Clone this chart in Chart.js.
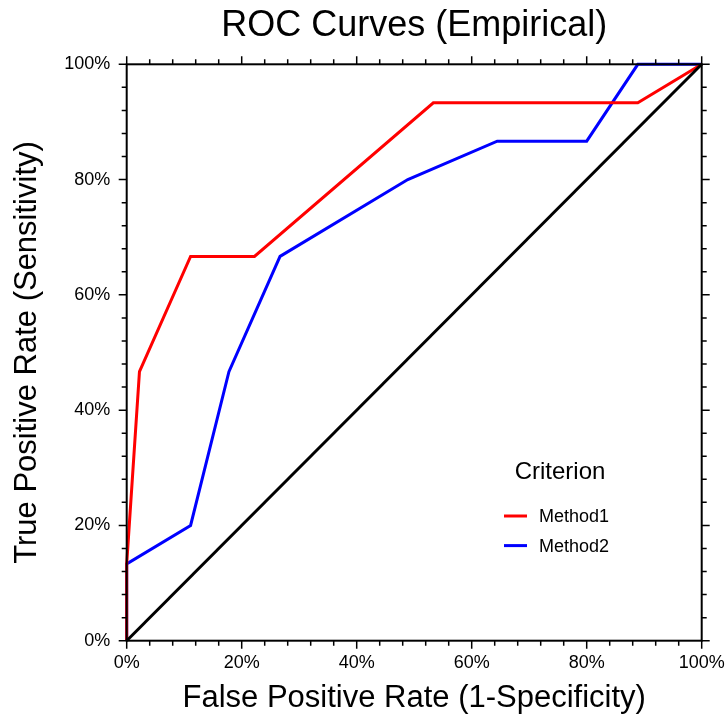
<!DOCTYPE html>
<html>
<head>
<meta charset="utf-8">
<script src="https://cdn.jsdelivr.net/npm/chart.js@4.4.1/dist/chart.umd.min.js"></script>
<style>
html,body{margin:0;padding:0;background:#fff;}
#wrap{position:relative;width:725px;height:721px;}
</style>
</head>
<body>
<div id="wrap"><canvas id="c" width="725" height="721"></canvas></div>
<script>
// Data (percent)
const seriesNames = ['Method1', 'Method2'];
const method1FPR = [0, 0, 2.22, 11.11, 22.22, 53.33, 88.89, 100];
const method1TPR = [0, 13.33, 46.67, 66.67, 66.67, 93.33, 93.33, 100];
const method2FPR = [0, 0, 11.11, 17.78, 26.67, 48.89, 64.44, 80.0, 88.89, 100];
const method2TPR = [0, 13.33, 20.0, 46.67, 66.67, 80.0, 86.67, 86.67, 100, 100];
const refFPR = [0, 100];
const refTPR = [0, 100];
const tickValues = [0, 20, 40, 60, 80, 100];
const legendTitle = 'Criterion';
const chartTitle = 'ROC Curves (Empirical)';
const xTitle = 'False Positive Rate (1-Specificity)';
const yTitle = 'True Positive Rate (Sensitivity)';

const toPts = (xs, ys) => xs.map((x, i) => ({x: x, y: ys[i]}));
const FONT = "'Liberation Sans', Arial, sans-serif";

const frameTicks = {
  id: 'frameTicks',
  afterDatasetsDraw(chart) {
    const {ctx, chartArea: a, scales} = chart;
    const xs = scales.x, ys = scales.y;
    ctx.save();
    ctx.strokeStyle = '#000';
    ctx.lineWidth = 2;
    ctx.strokeRect(a.left, a.top, a.right - a.left, a.bottom - a.top);
    ctx.lineWidth = 1.5;
    ctx.beginPath();
    for (let v = 0; v <= 100; v += 4) {
      const major = v % 20 === 0;
      const L = major ? 8 : 5;
      const px = xs.getPixelForValue(v);
      const py = ys.getPixelForValue(v);
      ctx.moveTo(px, a.bottom); ctx.lineTo(px, a.bottom + L);
      ctx.moveTo(px, a.top); ctx.lineTo(px, a.top - L);
      ctx.moveTo(a.left, py); ctx.lineTo(a.left - L, py);
      ctx.moveTo(a.right, py); ctx.lineTo(a.right + L, py);
    }
    ctx.stroke();
    ctx.restore();
  },
  afterDraw(chart) {
    const {ctx, chartArea: a} = chart;
    ctx.save();
    ctx.fillStyle = '#000';
    ctx.textAlign = 'center';
    ctx.textBaseline = 'middle';
    ctx.font = '36px ' + FONT;
    ctx.fillText(chartTitle, (a.left + a.right) / 2, 26);
    ctx.font = '24px ' + FONT;
    ctx.fillText(legendTitle, 560, 472);
    ctx.textAlign = 'left';
    ctx.font = '18px ' + FONT;
    const items = chart.data.datasets.filter(d => seriesNames.includes(d.label));
    items.forEach((d, i) => {
      const y = 516 + i * 29.6;
      ctx.strokeStyle = d.borderColor;
      ctx.lineWidth = 3;
      ctx.beginPath();
      ctx.moveTo(504, y); ctx.lineTo(527, y);
      ctx.stroke();
      ctx.fillText(d.label, 539, y + 1);
    });
    ctx.restore();
  }
};

new Chart(document.getElementById('c'), {
  type: 'scatter',
  data: {
    datasets: [
      {label: 'Reference', data: toPts(refFPR, refTPR), showLine: true, borderColor: '#000000', borderWidth: 3, pointRadius: 0, clip: false},
      {label: seriesNames[0], data: toPts(method1FPR, method1TPR), showLine: true, borderColor: '#ff0000', borderWidth: 3, pointRadius: 0, clip: false},
      {label: seriesNames[1], data: toPts(method2FPR, method2TPR), showLine: true, borderColor: '#0000ff', borderWidth: 3, pointRadius: 0, clip: false}
    ]
  },
  options: {
    responsive: false,
    animation: false,
    devicePixelRatio: 1,
    layout: {padding: {left: 0, right: 23.3, top: 64.3, bottom: 0}},
    plugins: {
      legend: {display: false},
      tooltip: {enabled: false},
      title: {display: false}
    },
    scales: {
      x: {
        type: 'linear', min: 0, max: 100,
        afterBuildTicks: (s) => { s.ticks = tickValues.map(v => ({value: v})); },
        afterFit: (s) => { s.height = 80.3; s.paddingLeft = 0; s.paddingRight = 0; },
        grid: {display: false, drawTicks: false},
        border: {display: false},
        ticks: {color: '#000', padding: 12, maxRotation: 0, font: {family: FONT, size: 18}, callback: v => v + '%'},
        title: {display: true, text: xTitle, color: '#000', font: {family: FONT, size: 31, lineHeight: 1.2}, padding: {top: 0, bottom: 4}}
      },
      y: {
        type: 'linear', min: 0, max: 100,
        afterBuildTicks: (s) => { s.ticks = tickValues.map(v => ({value: v})); },
        afterFit: (s) => { s.width = 126.7; s.paddingTop = 0; s.paddingBottom = 0; },
        grid: {display: false, drawTicks: false},
        border: {display: false},
        ticks: {color: '#000', padding: 16.5, font: {family: FONT, size: 18}, callback: v => v + '%'},
        title: {display: true, text: yTitle, color: '#000', font: {family: FONT, size: 31, lineHeight: 1.2}, padding: {top: 9, bottom: 0}}
      }
    }
  },
  plugins: [frameTicks]
});
</script>
</body>
</html>
